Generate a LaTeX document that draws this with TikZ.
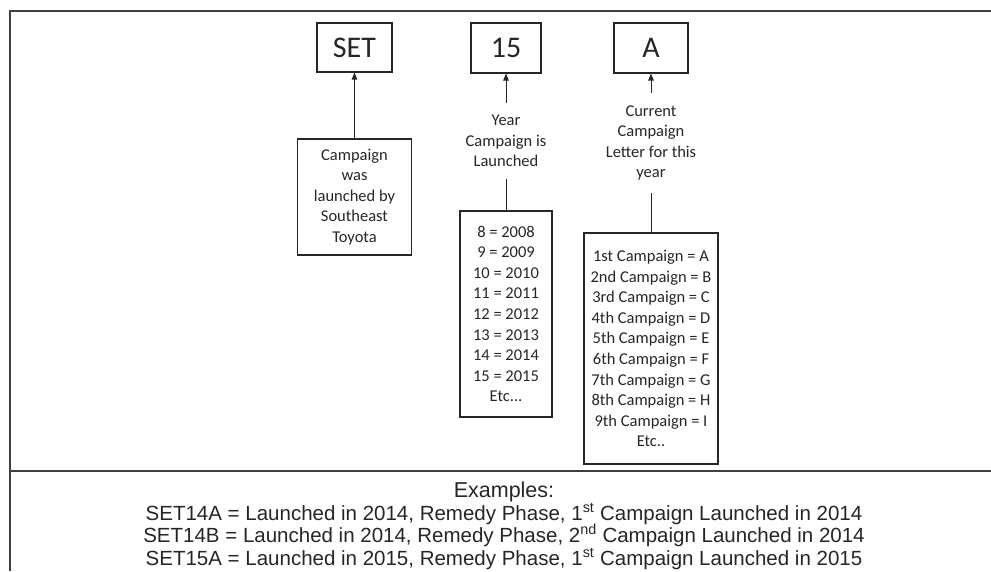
\documentclass[tikz,border=0pt]{standalone}
\usepackage{fontspec}
\setmainfont{Carlito}
\newfontfamily\examplefont{Liberation Sans}
\usepackage{xcolor}
\usetikzlibrary{arrows.meta, positioning}

\definecolor{ink}{rgb}{0.15,0.15,0.15}

\begin{document}
\begin{tikzpicture}[x=1pt, y=-1pt, color=ink,
		codebox/.style={draw, line width=1.1pt, inner sep=0pt, font=\fontsize{30}{36}\selectfont},
		notebox/.style={draw, line width=1.1pt, inner sep=0pt, align=center, font=\fontsize{16.5}{20.6}\selectfont},
		note/.style={align=center, inner sep=0pt, outer ysep=12pt, font=\fontsize{16.5}{20.6}\selectfont},
		examples/.style={inner sep=0pt, anchor=base, font=\examplefont\fontsize{20.5}{22.5}\selectfont},
		pointer/.style={-{Triangle[length=7pt, width=5.5pt]}, line width=1pt},
		link/.style={line width=1pt}]
			\useasboundingbox (0,0) rectangle (991,571);
			% Frame:
			\draw[line width=1.2pt, black!75] (10,571) -- (10,11) -- (991,11);
			\draw[line width=1.2pt, black!75] (10,471) -- (991,471);
			% Code parts:
			\node[codebox, minimum width=75pt, minimum height=49pt](N1) at (354.5, 47.5){SET};
			\node[codebox, minimum width=70pt, minimum height=50pt](N2) at (506, 48){15};
			\node[codebox, minimum width=74pt, minimum height=50pt](N3) at (651, 48){A};
			% Notes:
			\node[notebox, minimum width=114pt, minimum height=116pt](N4) at (354.5, 197){Campaign\\was\\launched by\\Southeast\\Toyota};
			\node[note](N5) at (506, 141){Year\\Campaign is\\Launched};
			\node[note](N6) at (651, 143){Current\\Campaign\\Letter for this\\year};
			\node[notebox, minimum width=92pt, minimum height=206pt](N7) at (506, 314){8 = 2008\\9 = 2009\\10 = 2010\\11 = 2011\\12 = 2012\\13 = 2013\\14 = 2014\\15 = 2015\\Etc...};
			\node[notebox, minimum width=134pt, minimum height=231pt](N8) at (651, 348.5){1st Campaign = A\\2nd Campaign = B\\3rd Campaign = C\\4th Campaign = D\\5th Campaign = E\\6th Campaign = F\\7th Campaign = G\\8th Campaign = H\\9th Campaign = I\\Etc..};
			% Connectors:
			\draw[pointer] (N4) -- (N1);
			\draw[pointer] (N5) -- (N2);
			\draw[pointer] (N6) -- (N3);
			\draw[link] (N5) -- (N7);
			\draw[link] (N6) -- (N8);
			% Examples:
			\node[examples, font=\examplefont\fontsize{21.5}{24}\selectfont](N9) at (504, 497.5){Examples:};
			\node[examples](N10) at (504, 520){SET14A = Launched in 2014, Remedy Phase, 1\textsuperscript{st} Campaign Launched in 2014};
			\node[examples](N11) at (504, 542.5){SET14B = Launched in 2014, Remedy Phase, 2\textsuperscript{nd} Campaign Launched in 2014};
			\node[examples](N12) at (504, 565){SET15A = Launched in 2015, Remedy Phase, 1\textsuperscript{st} Campaign Launched in 2015};
		\end{tikzpicture}
\end{document}
